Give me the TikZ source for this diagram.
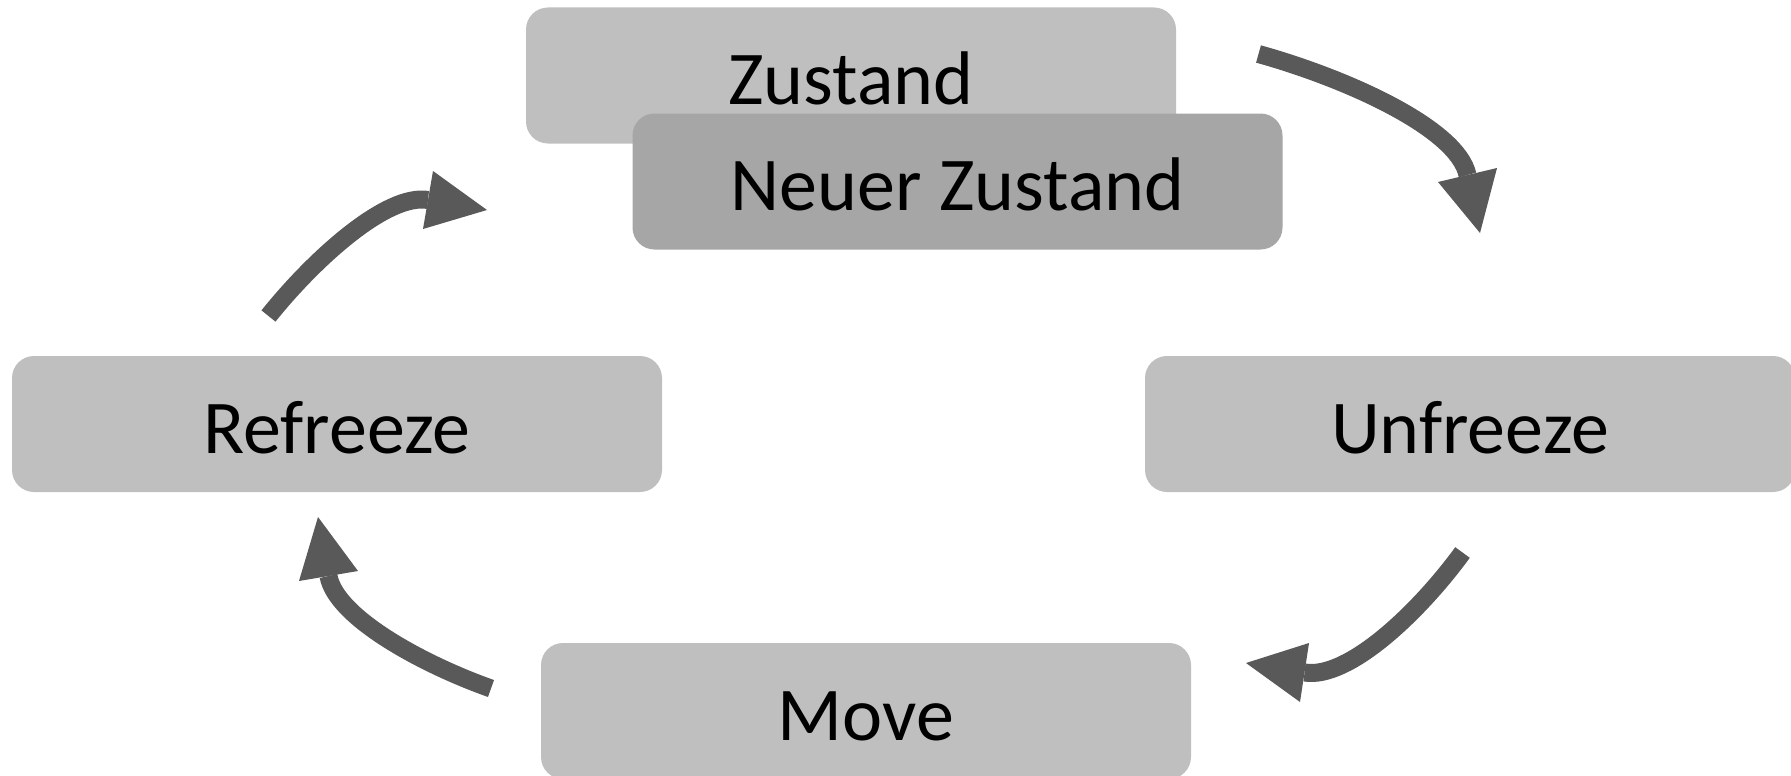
\documentclass[tikz,border=0pt]{standalone}
\usepackage{fontspec}
\setmainfont{Carlito}
\definecolor{boxlight}{HTML}{BFBFBF}
\definecolor{boxdark}{HTML}{A6A6A6}
\definecolor{arrowgray}{HTML}{595959}
\begin{document}
\begin{tikzpicture}[x=1pt,y=-1pt,
  stage/.style={rectangle, rounded corners=22pt, minimum width=650pt,
    minimum height=136pt, inner sep=0pt, text height=58pt, text depth=0pt,
    font=\fontsize{76}{90}\selectfont, fill=boxlight},
  shaft/.style={draw=arrowgray, line width=18pt, line cap=butt},
  arrowhead/.style={fill=arrowgray}]
\useasboundingbox (0,0) rectangle (1791,776);
\begin{scope}
\clip (0,0) rectangle (1791,776);
\node[stage] (zustand) at (851,75.5) {Zustand};
\node[stage, fill=boxdark] (neu) at (957.5,181.5) {Neuer Zustand};
\node[stage] (refreeze) at (337,424) {Refreeze};
\node[stage] (unfreeze) at (1470,424) {Unfreeze};
\node[stage] (move) at (866,711) {Move};

% arrow 1: Zustand -> Unfreeze
\coordinate (a1s) at (1258.5,54);
\coordinate (a1b) at (1467.5,175);
\coordinate (a1l) at (1438,182);
\coordinate (a1r) at (1497,168);
\coordinate (a1t) at (1480,233);
% arrow 2: Unfreeze -> Move
\coordinate (a2s) at (1462.5,552.5);
\coordinate (a2b) at (1304.5,672.5);
\coordinate (a2l) at (1309,643);
\coordinate (a2r) at (1300,702);
\coordinate (a2t) at (1246,663);
% arrow 3: Move -> Refreeze
\coordinate (a3s) at (491,688.5);
\coordinate (a3b) at (328.5,576);
\coordinate (a3l) at (299,581);
\coordinate (a3r) at (358,571);
\coordinate (a3t) at (318,517);
% arrow 4: Refreeze -> Zustand
\coordinate (a4s) at (268.5,316);
\coordinate (a4b) at (428,200);
\coordinate (a4l) at (433,171);
\coordinate (a4r) at (423,229);
\coordinate (a4t) at (487,210);

\draw[shaft] (a1s) .. controls (1346.0,78.3) and (1457.35,128.1) .. (a1b);
\fill[arrowhead] (a1l) -- (a1t) -- (a1r) -- cycle;
\draw[shaft] (a2s) .. controls (1419.8,611.1) and (1348.7,679.6) .. (a2b);
\fill[arrowhead] (a2l) -- (a2t) -- (a2r) -- cycle;
\draw[shaft] (a3s) .. controls (422.6,664.3) and (335.8,617.2) .. (a3b);
\fill[arrowhead] (a3l) -- (a3t) -- (a3r) -- cycle;
\draw[shaft] (a4s) .. controls (313.8,259.3) and (386.8,193.0) .. (a4b);
\fill[arrowhead] (a4l) -- (a4t) -- (a4r) -- cycle;
\end{scope}
\end{tikzpicture}
\end{document}
